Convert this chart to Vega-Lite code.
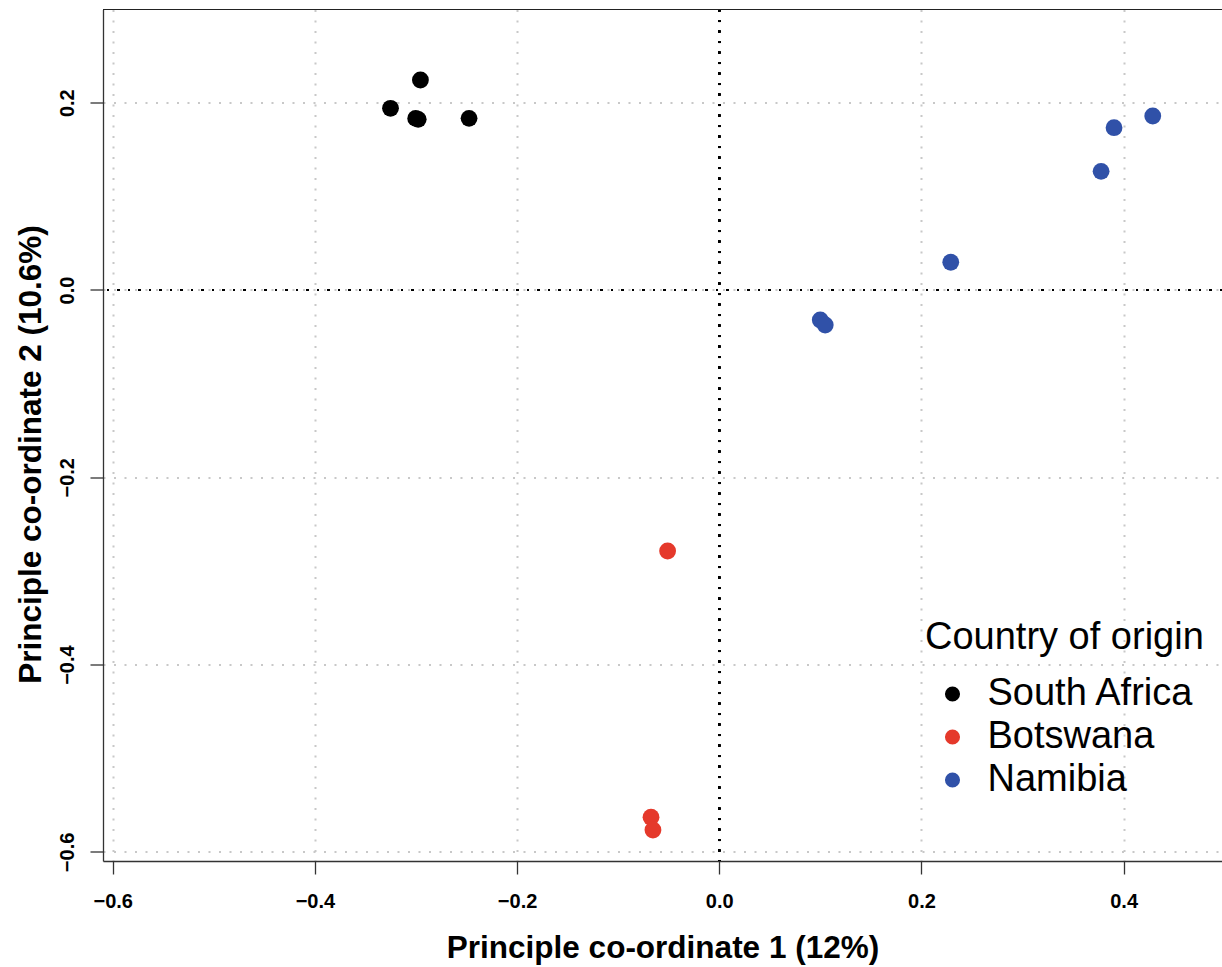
{
  "$schema": "https://vega.github.io/schema/vega-lite/v6.json",
  "width": 1119,
  "height": 851.5,
  "autosize": "none",
  "padding": {"left": 103, "top": 9.5, "right": 0, "bottom": 106},
  "background": "white",
  "config": {
    "view": {"stroke": null},
    "font": "Liberation Sans",
    "axis": {
      "grid": true,
      "gridDash": [2, 8.5],
      "gridColor": "#c8c8c8",
      "gridWidth": 2,
      "domainColor": "#333333",
      "domainWidth": 1.3,
      "tickColor": "#333333",
      "tickWidth": 1.3,
      "tickSize": 13,
      "labelFontSize": 20,
      "labelFontWeight": "bold",
      "labelColor": "black",
      "labelFlush": false,
      "titleFontSize": 31.5,
      "titleFontWeight": "bold",
      "titleColor": "black"
    },
    "axisX": {
      "labelBaseline": "alphabetic",
      "labelPadding": 33,
      "titleBaseline": "alphabetic",
      "titleY": 96
    },
    "axisY": {
      "labelAngle": -90,
      "labelAlign": "center",
      "labelBaseline": "alphabetic",
      "labelPadding": 17,
      "titleAngle": -90,
      "titleAlign": "center",
      "titleBaseline": "alphabetic",
      "titleX": -63,
      "titleY": 444.5
    }
  },
  "data": {
    "values": [
      {"pc1": -0.3252, "pc2": 0.194, "country": "South Africa"},
      {"pc1": -0.2956, "pc2": 0.2242, "country": "South Africa"},
      {"pc1": -0.3003, "pc2": 0.1832, "country": "South Africa"},
      {"pc1": -0.2978, "pc2": 0.1822, "country": "South Africa"},
      {"pc1": -0.2475, "pc2": 0.1833, "country": "South Africa"},
      {"pc1": -0.0511, "pc2": -0.2787, "country": "Botswana"},
      {"pc1": -0.0675, "pc2": -0.563, "country": "Botswana"},
      {"pc1": -0.0656, "pc2": -0.5766, "country": "Botswana"},
      {"pc1": 0.4288, "pc2": 0.1858, "country": "Namibia"},
      {"pc1": 0.3905, "pc2": 0.1733, "country": "Namibia"},
      {"pc1": 0.3777, "pc2": 0.1267, "country": "Namibia"},
      {"pc1": 0.229, "pc2": 0.0296, "country": "Namibia"},
      {"pc1": 0.0999, "pc2": -0.032, "country": "Namibia"},
      {"pc1": 0.1048, "pc2": -0.0374, "country": "Namibia"}
    ]
  },
  "layer": [
    {
      "mark": {"type": "circle", "size": 283, "opacity": 1},
      "encoding": {
        "x": {
          "field": "pc1",
          "type": "quantitative",
          "scale": {"domain": [-0.6096, 0.4973], "nice": false, "zero": false},
          "axis": {
            "values": [-0.6, -0.4, -0.2, 0, 0.2, 0.4],
            "format": ".1f",
            "title": "Principle co-ordinate 1 (12%)"
          }
        },
        "y": {
          "field": "pc2",
          "type": "quantitative",
          "scale": {"domain": [-0.6097, 0.2995], "nice": false, "zero": false},
          "axis": {
            "values": [-0.6, -0.4, -0.2, 0, 0.2],
            "format": ".1f",
            "title": "Principle co-ordinate 2 (10.6%)"
          }
        },
        "color": {
          "field": "country",
          "type": "nominal",
          "scale": {
            "domain": ["South Africa", "Botswana", "Namibia"],
            "range": ["#000000", "#E5392B", "#3051A8"]
          },
          "legend": {
            "orient": "none",
            "legendX": 822,
            "legendY": 609,
            "title": "Country of origin",
            "titleFontSize": 38,
            "titleFontWeight": "normal",
            "titleColor": "black",
            "titleLimit": 500,
            "titlePadding": 18.5,
            "labelFontSize": 38,
            "labelColor": "black",
            "labelLimit": 500,
            "labelOffset": 16,
            "symbolType": "circle",
            "symbolSize": 227,
            "symbolOffset": 8.5,
            "symbolStrokeWidth": 0,
            "rowPadding": 5,
            "padding": 0
          }
        }
      }
    },
    {
      "mark": {"type": "rule", "color": "black", "strokeWidth": 2, "strokeDash": [2, 8.5]},
      "encoding": {"x": {"datum": 0, "type": "quantitative"}}
    },
    {
      "mark": {"type": "rule", "color": "black", "strokeWidth": 2, "strokeDash": [2, 8.5]},
      "encoding": {"y": {"datum": 0, "type": "quantitative"}}
    },
    {
      "mark": {"type": "rule", "color": "#222222", "strokeWidth": 1},
      "encoding": {"y": {"datum": 0.2995, "type": "quantitative"}}
    }
  ]
}
